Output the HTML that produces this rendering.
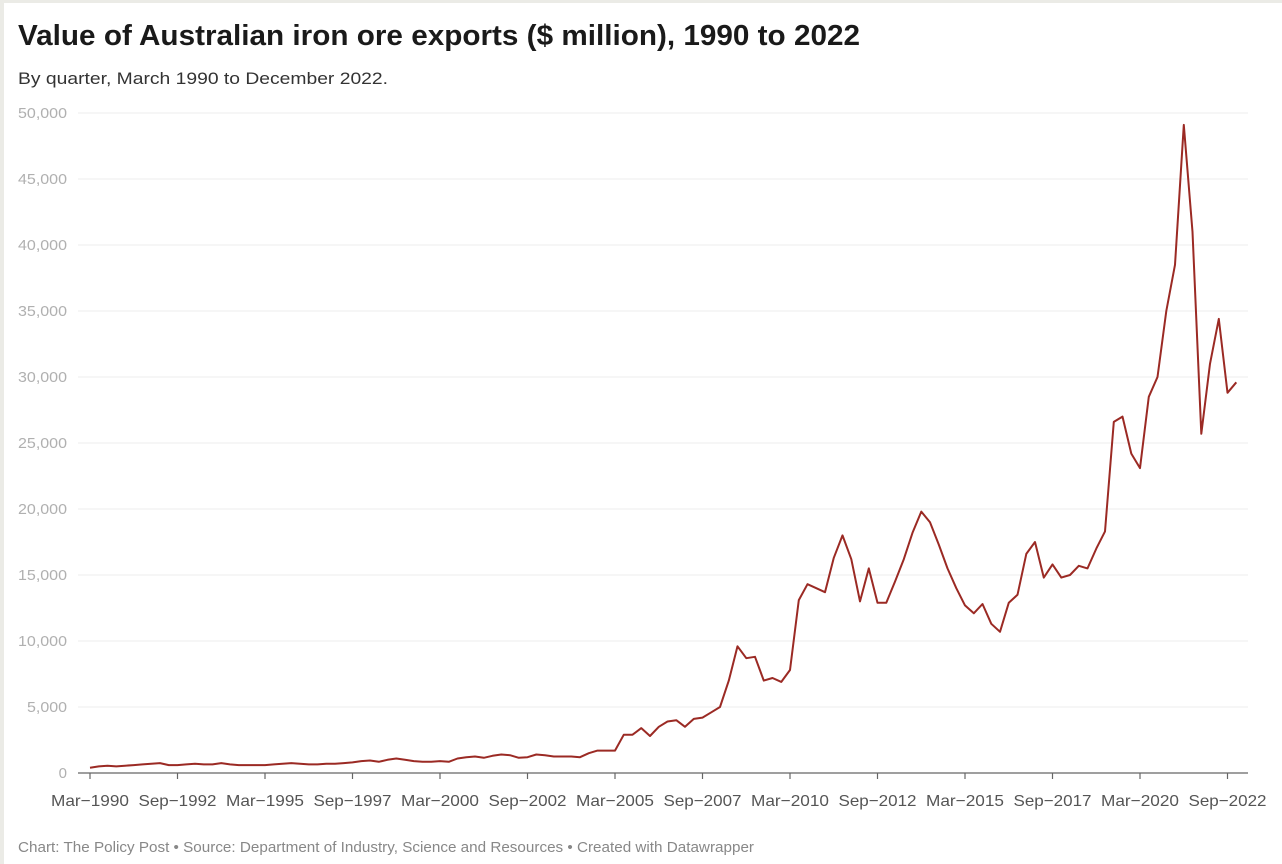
<!DOCTYPE html>
<html><head><meta charset="utf-8"><style>
html,body{margin:0;padding:0;background:#fff;}
body{width:1282px;height:864px;overflow:hidden;position:relative;font-family:"Liberation Sans",sans-serif;}
</style></head><body>
<svg width="1282" height="864" xmlns="http://www.w3.org/2000/svg" style="position:absolute;left:0;top:0">
<rect x="0" y="0" width="1282" height="864" fill="#fff"/>
<rect x="0" y="0" width="4" height="864" fill="#ebebe6"/>
<rect x="0" y="0" width="1282" height="3" fill="#ebebe6"/>
<text x="18" y="45" font-size="28.5" font-weight="bold" fill="#1a1a1a" textLength="842" lengthAdjust="spacingAndGlyphs">Value of Australian iron ore exports ($ million), 1990 to 2022</text>
<text x="18" y="84" font-size="17" fill="#333" textLength="370" lengthAdjust="spacingAndGlyphs">By quarter, March 1990 to December 2022.</text>
<g id="grid" stroke="#ececec" stroke-width="1"></g>
<g id="ylab" font-size="15" fill="#b0b0b0" text-anchor="end"></g>
<line x1="78" y1="773" x2="1248" y2="773" stroke="#666" stroke-width="1.2"/>
<g id="xt" stroke="#666" stroke-width="1.2"></g>
<g id="xlab" font-size="16" fill="#555" text-anchor="middle"></g>
<polyline id="ln" fill="none" stroke="#9b2a24" stroke-width="2" stroke-linejoin="round"/>
<text x="18" y="852" font-size="14.5" fill="#888" textLength="736" lengthAdjust="spacingAndGlyphs">Chart: The Policy Post • Source: Department of Industry, Science and Resources • Created with Datawrapper</text>
</svg>
<script>
var ns="http://www.w3.org/2000/svg";
function el(p,t,a,txt){var e=document.createElementNS(ns,t);for(var k in a)e.setAttribute(k,a[k]);if(txt!=null)e.textContent=txt;document.getElementById(p).appendChild(e);}
for(var v=0;v<=50;v+=5){var y=773-v*13.2;if(v>0)el("grid","line",{x1:78,x2:1248,y1:y,y2:y});var a={x:67,y:y+5};if(v>=10){a.textLength=49;a.lengthAdjust="spacingAndGlyphs";}else if(v==5){a.textLength=40;a.lengthAdjust="spacingAndGlyphs";}el("ylab","text",a,v==0?"0":v+",000");}
var labs=["Mar\u22121990","Sep\u22121992","Mar\u22121995","Sep\u22121997","Mar\u22122000","Sep\u22122002","Mar\u22122005","Sep\u22122007","Mar\u22122010","Sep\u22122012","Mar\u22122015","Sep\u22122017","Mar\u22122020","Sep\u22122022"];
for(var i=0;i<labs.length;i++){var x=90+87.5*i;el("xt","line",{x1:x,x2:x,y1:773,y2:779});el("xlab","text",{x:x,y:806,textLength:78,lengthAdjust:"spacingAndGlyphs"},labs[i]);}
var d=[0.4,0.5,0.55,0.5,0.55,0.6,0.65,0.7,0.75,0.6,0.6,0.65,0.7,0.65,0.65,0.75,0.65,0.6,0.6,0.6,0.6,0.65,0.7,0.75,0.7,0.65,0.65,0.7,0.7,0.75,0.8,0.9,0.95,0.85,1.0,1.1,1.0,0.9,0.85,0.85,0.9,0.85,1.1,1.2,1.25,1.15,1.3,1.4,1.35,1.15,1.2,1.4,1.35,1.25,1.25,1.25,1.2,1.5,1.7,1.7,1.7,
2.9,2.9,3.4,2.8,3.5,3.9,4.0,3.5,4.1,4.2,4.6,5.0,7.0,9.6,8.7,8.8,7.0,7.2,6.9,7.8,13.1,14.3,14.0,13.7,16.3,18.0,16.2,13.0,15.5,12.9,12.9,14.5,16.2,18.2,19.8,19.0,17.3,15.5,14.0,12.7,12.1,12.8,11.3,10.7,12.9,13.5,16.6,17.5,14.8,15.8,14.8,15.0,15.7,15.5,17.0,18.3,26.6,27.0,24.2,23.1,28.5,30.0,35.0,38.5,49.1,41.0,25.7,31.0,34.4,28.8,29.6];
var pts=d.map(function(v,i){return (90+8.75*i).toFixed(1)+","+(773-v*13.2).toFixed(1);}).join(" ");
document.getElementById("ln").setAttribute("points",pts);
</script>
</body></html>
